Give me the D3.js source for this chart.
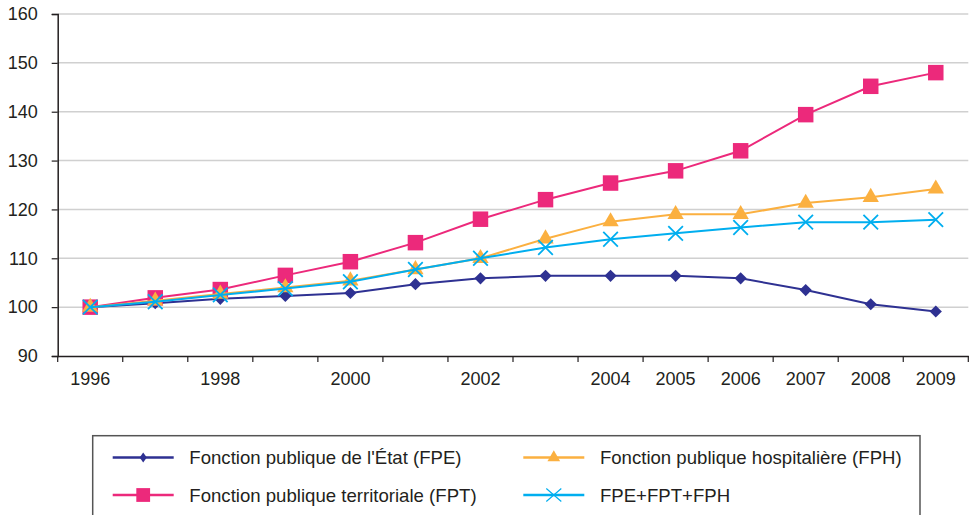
<!DOCTYPE html>
<html><head><meta charset="utf-8">
<script src="https://cdn.jsdelivr.net/npm/d3@7"></script>
<style>
html,body{margin:0;padding:0;background:#fff;}
svg text{font-family:"Liberation Sans",Arial,Helvetica,sans-serif;fill:#231f20;}
</style></head>
<body><svg id="c" width="970" height="515"></svg>
<script>
const years = [1996,1997,1998,1999,2000,2001,2002,2003,2004,2005,2006,2007,2008,2009];
const xLabels = ["1996","","1998","","2000","","2002","","2004","2005","2006","2007","2008","2009"];
const yTicks = [90,100,110,120,130,140,150,160];
const fpe   = [100,100.8,101.7,102.3,102.9,104.7,105.9,106.4,106.4,106.4,105.9,103.5,100.6,99.1];
const fpt   = [100,101.9,103.6,106.5,109.3,113.2,118.0,122.0,125.4,127.9,132.0,139.4,145.2,148.0];
const fph   = [100,101.3,102.7,104.0,105.4,107.7,110.0,114.0,117.5,119.0,119.0,121.3,122.5,124.2];
const total = [100,101.1,102.5,103.8,105.2,107.7,110.0,112.2,113.9,115.1,116.3,117.4,117.4,117.9];
const seriesNames = ["Fonction publique de l'État (FPE)","Fonction publique territoriale (FPT)","Fonction publique hospitalière (FPH)","FPE+FPT+FPH"];
const colors = ["#2e3192","#ec297b","#fbb040","#00aeef"];

const svg = d3.select("#c");
const x = d3.scaleBand().domain(years).range([57.7,968.3]).paddingInner(0).paddingOuter(0);
const y = d3.scaleLinear().domain([90,160]).range([356,14]);
const cx = d => x(d) + x.bandwidth()/2;

// grid
svg.append("g").selectAll("line").data(yTicks.filter(v=>v>90)).join("line")
  .attr("x1",x.range()[0]).attr("x2",x.range()[1])
  .attr("y1",d=>y(d)).attr("y2",d=>y(d))
  .attr("stroke","#d0d0d0").attr("stroke-width",1.5);

// y axis
const ya = svg.append("g").attr("transform",`translate(${x.range()[0]},0)`)
  .call(d3.axisLeft(y).tickValues(yTicks).tickSize(6).tickPadding(14).tickFormat(d3.format("d")));
ya.select(".domain").attr("stroke","#231f20").attr("stroke-width",1.5);
ya.selectAll(".tick line").attr("stroke","#231f20").attr("stroke-width",1.2);
ya.selectAll("text").style("font-size","18px").attr("fill","#231f20");

// x axis
const xa = svg.append("g").attr("transform",`translate(0,${y(90)})`)
  .call(d3.axisBottom(x).tickSize(0).tickPadding(16).tickFormat((d,i)=>xLabels[i]));
xa.select(".domain").attr("stroke","#231f20").attr("stroke-width",1.5);
xa.selectAll("text").style("font-size","18px").attr("fill","#231f20");
const edges = years.map(d=>x(d)).concat([x(years[years.length-1])+x.bandwidth()]);
xa.append("g").selectAll("line").data(edges).join("line")
  .attr("x1",d=>d).attr("x2",d=>d).attr("y1",0).attr("y2",6)
  .attr("stroke","#231f20").attr("stroke-width",1.2);

const data = [fpe,fpt,fph,total];
const line = d3.line().x((d,i)=>cx(years[i])).y(d=>y(d));
data.forEach((vals,k)=>{
  const g = svg.append("g");
  g.append("path").datum(vals).attr("d",line).attr("fill","none")
    .attr("stroke",colors[k]).attr("stroke-width",2);
  vals.forEach((v,i)=>{
    const m = g.append("g").attr("transform",`translate(${cx(years[i])},${y(v)})`);
    if(k===0){
      m.append("path").attr("d",d3.symbol(d3.symbolSquare,74)()).attr("transform","rotate(45)").attr("fill",colors[0]);
    } else if(k===1){
      m.append("path").attr("d",d3.symbol(d3.symbolSquare,240)()).attr("fill",colors[1]);
    } else if(k===2){
      m.append("path").attr("d",d3.symbol(d3.symbolTriangle,115)()).attr("fill",colors[2]);
    } else {
      const r = 7.3;
      m.append("path").attr("d",`M${-r},${-r}L${r},${r}M${-r},${r}L${r},${-r}`)
        .attr("stroke",colors[3]).attr("stroke-width",1.8).attr("fill","none");
    }
  });
});

// legend
svg.append("rect").attr("x",92.7).attr("y",435.7).attr("width",827.3).attr("height",100)
  .attr("fill","none").attr("stroke","#555").attr("stroke-width",1.5);
const legPos = [[112.7,457.5],[112.7,495],[523.3,457.5],[523.3,495]];
seriesNames.forEach((name,k)=>{
  const [lx,ly] = legPos[k];
  const g = svg.append("g");
  g.append("line").attr("x1",lx).attr("x2",lx+61).attr("y1",ly).attr("y2",ly)
    .attr("stroke",colors[k]).attr("stroke-width",2.5);
  const m = g.append("g").attr("transform",`translate(${lx+30.5},${ly})`);
  if(k===0){
    m.append("path").attr("d",d3.symbol(d3.symbolSquare,40)()).attr("transform","scale(0.8,1.1) rotate(45)").attr("fill",colors[0]);
  } else if(k===1){
    m.append("path").attr("d",d3.symbol(d3.symbolSquare,190)()).attr("fill",colors[1]);
  } else if(k===2){
    m.append("path").attr("d",d3.symbol(d3.symbolTriangle,70)()).attr("fill",colors[2]);
  } else {
    m.append("path").attr("d","M-7.5,-6.5L7.5,6.5M-7.5,6.5L7.5,-6.5").attr("stroke",colors[3]).attr("stroke-width",1.2).attr("fill","none");
  }
  g.append("text").attr("x",lx+76.6).attr("y",ly).attr("dy","0.35em").style("font-size","18.6px").text(name);
});
</script></body></html>
